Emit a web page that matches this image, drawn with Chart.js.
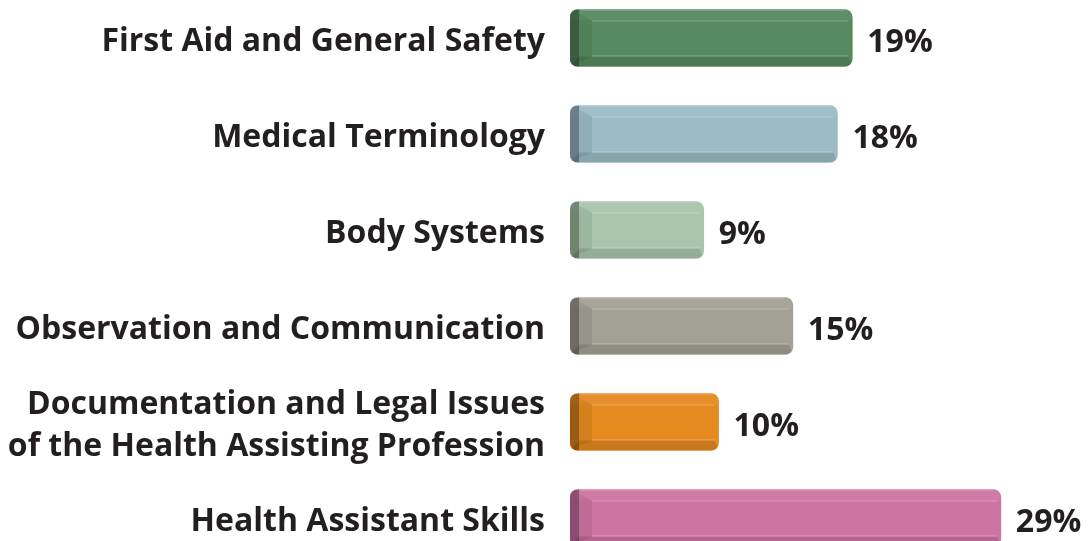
<!DOCTYPE html>
<html>
<head>
<meta charset="utf-8">
<script src="https://cdn.jsdelivr.net/npm/chart.js@4.4.0/dist/chart.umd.min.js"></script>
<style>
  html, body { margin: 0; padding: 0; background: #ffffff; overflow: hidden; }
  #wrap { position: absolute; left: 0; top: -10px; width: 1090px; height: 576px; }
</style>
</head>
<body>
<div id="wrap"><canvas id="skills"></canvas></div>
<script>
const categories = [
  'First Aid and General Safety',
  'Medical Terminology',
  'Body Systems',
  'Observation and Communication',
  ['Documentation and Legal Issues', 'of the Health Assisting Profession'],
  'Health Assistant Skills'
];
const percents = [19, 18, 9, 15, 10, 29];
const faceColors = ['#578a5e', '#9bbcc6', '#a9c5ab', '#a3a094', '#e58a1f', '#ce74a3'];

const textColor = '#231f20';
const labelFont = 'bold 32px "Open Sans"';

// draws the bevelled 3D look plus the value label on each bar
const bevelPlugin = {
  id: 'bevel',
  afterDatasetsDraw(chart) {
    const ctx = chart.ctx;
    const meta = chart.getDatasetMeta(0);
    meta.data.forEach((bar, i) => {
      const x0 = bar.base, x1 = bar.x;
      const top = bar.y - bar.height / 2, bot = bar.y + bar.height / 2;
      const w = x1 - x0, h = bot - top;
      ctx.save();
      ctx.beginPath();
      ctx.roundRect(x0, top, w, h, 8);
      ctx.clip();
      // top band, a touch lighter
      ctx.fillStyle = 'rgba(255,255,255,0.05)';
      ctx.fillRect(x0, top, w, 11);
      // bottom band, darker
      ctx.fillStyle = 'rgba(0,0,0,0.12)';
      ctx.beginPath();
      ctx.moveTo(x0 + 9, bot - 10);
      ctx.lineTo(x1 - 4, bot - 10);
      ctx.lineTo(x1, bot);
      ctx.lineTo(x0, bot);
      ctx.closePath();
      ctx.fill();
      // inner left face
      ctx.fillStyle = 'rgba(0,0,0,0.07)';
      ctx.beginPath();
      ctx.moveTo(x0 + 9, top + 4);
      ctx.lineTo(x0 + 22, top + 11);
      ctx.lineTo(x0 + 22, bot - 10);
      ctx.lineTo(x0 + 9, bot - 4);
      ctx.closePath();
      ctx.fill();
      // outer left edge, darkest
      ctx.fillStyle = 'rgba(0,0,0,0.33)';
      ctx.fillRect(x0, top, 9, h);
      // highlight lines
      ctx.strokeStyle = 'rgba(255,255,255,0.28)';
      ctx.lineWidth = 1;
      ctx.beginPath();
      ctx.moveTo(x0 + 22, top + 11.5);
      ctx.lineTo(x1 - 4, top + 11.5);
      ctx.moveTo(x0 + 22, bot - 10.5);
      ctx.lineTo(x1 - 4, bot - 10.5);
      ctx.moveTo(x0 + 10, top + 0.5);
      ctx.lineTo(x1 - 8, top + 0.5);
      ctx.stroke();
      ctx.restore();

      ctx.save();
      ctx.fillStyle = textColor;
      ctx.font = labelFont;
      ctx.textAlign = 'left';
      ctx.textBaseline = 'middle';
      ctx.fillText(percents[i] + '%', x1 + 15, bar.y + 5);
      ctx.restore();
    });
  }
};

new Chart(document.getElementById('skills'), {
  type: 'bar',
  plugins: [bevelPlugin],
  data: {
    labels: categories,
    datasets: [{
      data: percents,
      backgroundColor: faceColors,
      borderRadius: 8,
      borderSkipped: false,
      barThickness: 57
    }]
  },
  options: {
    indexAxis: 'y',
    responsive: true,
    maintainAspectRatio: false,
    animation: false,
    layout: { padding: 0 },
    plugins: {
      legend: { display: false },
      tooltip: { enabled: false }
    },
    scales: {
      x: {
        display: false,
        min: 0,
        max: 35
      },
      y: {
        grid: { display: false, drawTicks: false },
        border: { display: false },
        afterFit(scale) {
          scale.width = 570;
          scale.paddingTop = 0;
          scale.paddingBottom = 0;
        },
        ticks: {
          color: textColor,
          padding: 25,
          labelOffset: 4,
          font: { family: 'Open Sans', size: 32, weight: 'bold', lineHeight: 1.3 }
        }
      }
    }
  }
});
</script>
</body>
</html>
